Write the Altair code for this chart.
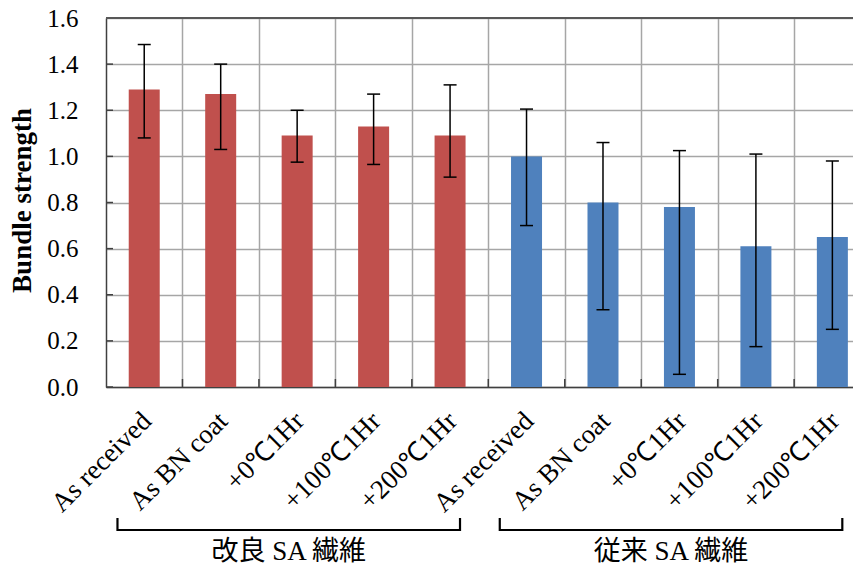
import altair as alt
import pandas as pd

# ---------------- data ----------------
categories = ["As received", "As BN coat", "+0℃1Hr", "+100℃1Hr", "+200℃1Hr",
              "As received", "As BN coat", "+0℃1Hr", "+100℃1Hr", "+200℃1Hr"]
groups = ["改良 SA 繊維"] * 5 + ["従来 SA 繊維"] * 5
values = [1.29, 1.27, 1.09, 1.13, 1.09, 1.00, 0.80, 0.78, 0.61, 0.65]
err_upper = [1.485, 1.40, 1.20, 1.27, 1.31, 1.205, 1.06, 1.025, 1.01, 0.98]
err_lower = [1.08, 1.03, 0.975, 0.965, 0.91, 0.70, 0.335, 0.055, 0.175, 0.25]
y_ticks = [0.0, 0.2, 0.4, 0.6, 0.8, 1.0, 1.2, 1.4, 1.6]
group_names = ["改良 SA 繊維", "従来 SA 繊維"]
group_colors = ["#C0504D", "#4F81BD"]

# ---------------- layout ----------------
W, H = 747, 369
BAND = 76.46
n = len(categories)
x_max = W / BAND

SERIF = "Liberation Serif"
CJK = "Liberation Serif, Noto Sans CJK JP"

df = pd.DataFrame({"cat": categories, "group": groups, "value": values,
                   "hi": err_upper, "lo": err_lower})
df["pos"] = df.index + 0.5

x_scale = alt.Scale(domain=[0, x_max], nice=False, zero=False, padding=0)
y_scale = alt.Scale(domain=[0, 1.6], nice=False, padding=0)

x_axis = alt.Axis(values=list(range(1, n)), grid=True, labels=False, ticks=False,
                  domain=True, domainColor="#404040", domainWidth=1.5,
                  gridColor="#a6a6a6", gridWidth=1.5, title=None)
y_axis = alt.Axis(values=y_ticks, format=".1f", grid=True, ticks=False,
                  domain=True, domainColor="#404040", domainWidth=1.5,
                  gridColor="#a6a6a6", gridWidth=1.5,
                  labelFont=SERIF, labelFontSize=25, labelColor="#000000",
                  labelPadding=28, title="Bundle strength",
                  titleFont=SERIF, titleFontSize=27, titleFontWeight="bold",
                  titleColor="#000000", titleX=-84, titleY=182,
                  titleAlign="center", titleBaseline="middle", titleAngle=270)


def X(field):
    return alt.X(field, type="quantitative", scale=x_scale, axis=x_axis)


def Y(field):
    return alt.Y(field, type="quantitative", scale=y_scale, axis=y_axis)


color = alt.Color("group:N", scale=alt.Scale(domain=group_names, range=group_colors),
                  legend=None)

bars = alt.Chart(df).mark_bar(size=31).encode(x=X("pos"), y=Y("value"), color=color)

err_line = alt.Chart(df).mark_rule(color="#000000", strokeWidth=1.5).encode(
    x=X("pos"), y=Y("lo"), y2="hi")
err_cap_hi = alt.Chart(df).mark_tick(orient="horizontal", size=13, thickness=1.5,
                                     color="#000000", opacity=1).encode(x=X("pos"), y=Y("hi"))
err_cap_lo = alt.Chart(df).mark_tick(orient="horizontal", size=13, thickness=1.5,
                                     color="#000000", opacity=1).encode(x=X("pos"), y=Y("lo"))

# inner tick marks
ytick_df = pd.DataFrame({"t": y_ticks})
ytick_rules = alt.Chart(ytick_df).mark_rule(color="#404040", strokeWidth=1.5).encode(
    y=Y("t"), x=alt.value(0), x2=alt.value(7))
xtick_df = pd.DataFrame({"b": list(range(1, n))})
xtick_rules = alt.Chart(xtick_df).mark_rule(color="#404040", strokeWidth=1.5).encode(
    x=X("b"), y=alt.value(H - 8), y2=alt.value(H))
top_border = alt.Chart(ytick_df).mark_rule(color="#595959", strokeWidth=1.5).encode(
    x=alt.value(0), x2=alt.value(W), y=alt.value(0))

# category labels (rotated)
cat_labels = alt.Chart(df).mark_text(angle=315, align="right", baseline="middle",
                                     font=SERIF, fontSize=27, color="#000000",
                                     dx=9, dy=-5).encode(
    x=X("pos"), y=alt.value(H + 40), text="cat:N")

# group brackets
gdf = pd.DataFrame({"name": group_names})
first_idx = [groups.index(g) for g in group_names]
last_idx = [len(groups) - 1 - groups[::-1].index(g) for g in group_names]
gdf["left"] = [f + 0.15 for f in first_idx]
gdf["right"] = [l + 0.63 for l in last_idx]
gdf["mid"] = (gdf["left"] + gdf["right"]) / 2

br_h = alt.Chart(gdf).mark_rule(color="#000000", strokeWidth=2.2).encode(
    x=X("left"), x2="right", y=alt.value(H + 143))
br_l = alt.Chart(gdf).mark_rule(color="#000000", strokeWidth=2.2).encode(
    x=X("left"), y=alt.value(H + 131), y2=alt.value(H + 144))
br_r = alt.Chart(gdf).mark_rule(color="#000000", strokeWidth=2.2).encode(
    x=X("right"), y=alt.value(H + 131), y2=alt.value(H + 144))
grp_labels = alt.Chart(gdf).mark_text(font=CJK, fontSize=27, color="#000000",
                                      baseline="middle", align="center").encode(
    x=X("mid"), y=alt.value(H + 165), text="name:N")

chart = alt.layer(
    bars, err_line, err_cap_hi, err_cap_lo, ytick_rules, xtick_rules, top_border,
    cat_labels, br_h, br_l, br_r, grp_labels
).properties(
    width=W, height=H,
    autosize=alt.AutoSizeParams(type="none"),
    padding={"left": 98, "top": 10, "right": 0, "bottom": 179},
    background="#ffffff",
).configure_view(stroke=None)

chart.save("out.html", embed_options={"renderer": "svg", "actions": False})
